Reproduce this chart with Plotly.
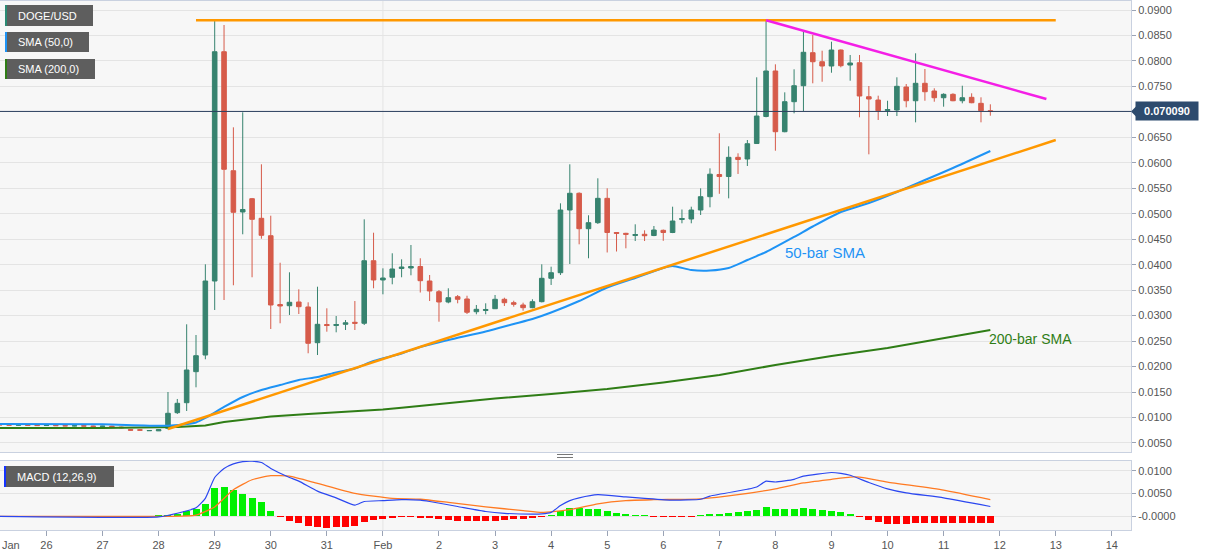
import plotly.graph_objects as go
from plotly.subplots import make_subplots
from datetime import datetime, timedelta

# ---------------- DATA ----------------
T0 = datetime(2021, 1, 29)          # bar index 0 = 29 Jan 00:00, 4-hour bars
bar_index = list(range(-23, 84))

opens = [0.00860, 0.00856, 0.00851, 0.00853, 0.00848, 0.00842, 0.00846, 0.00840, 0.00836, 0.00838,
         0.00832, 0.00826, 0.00830, 0.00812, 0.00762, 0.00758, 0.00740, 0.00738, 0.00788, 0.01095,
         0.01291, 0.01900, 0.02227, 0.03680, 0.08181, 0.05845, 0.05035, 0.05296, 0.04911, 0.04569,
         0.03219, 0.03195, 0.03268, 0.03170, 0.02469, 0.02826, 0.02806, 0.02830, 0.02869, 0.02850,
         0.04078, 0.03700, 0.03753, 0.03925, 0.03935, 0.03965, 0.03680, 0.03470, 0.03268, 0.03372,
         0.03327, 0.03077, 0.03101, 0.03136, 0.03321, 0.03254, 0.03209, 0.03156, 0.03274, 0.03733,
         0.03843, 0.05074, 0.05402, 0.04707, 0.04825, 0.05303, 0.04632, 0.04616, 0.04573, 0.04597,
         0.04573, 0.04675, 0.04632, 0.04887, 0.04897, 0.05074, 0.05335, 0.05771, 0.05731, 0.06108,
         0.06075, 0.06379, 0.06910, 0.07803, 0.06611, 0.07200, 0.07514, 0.08162, 0.07985, 0.07901,
         0.08215, 0.07920, 0.07965, 0.07298, 0.07233, 0.07027, 0.07037, 0.07488, 0.07219, 0.07561,
         0.07410, 0.07278, 0.07345, 0.07219, 0.07286, 0.07168, 0.07023]
highs = [0.00868, 0.00862, 0.00858, 0.00860, 0.00855, 0.00850, 0.00852, 0.00848, 0.00844, 0.00846,
         0.00840, 0.00836, 0.00838, 0.00820, 0.00772, 0.00766, 0.00748, 0.00768, 0.01501, 0.01364,
         0.02830, 0.02620, 0.04008, 0.08784, 0.08706, 0.06697, 0.06992, 0.05310, 0.05971, 0.04962,
         0.04039, 0.03851, 0.03517, 0.03262, 0.03568, 0.03144, 0.02993, 0.02914, 0.03287, 0.04891,
         0.04628, 0.03929, 0.04224, 0.04106, 0.04387, 0.04126, 0.03798, 0.03503, 0.03537, 0.03405,
         0.03391, 0.03209, 0.03242, 0.03405, 0.03352, 0.03293, 0.03254, 0.03321, 0.04008, 0.03961,
         0.05205, 0.05971, 0.05420, 0.04970, 0.05696, 0.05500, 0.04640, 0.04626, 0.04793, 0.04675,
         0.04760, 0.04690, 0.05139, 0.05084, 0.05139, 0.05500, 0.05892, 0.06580, 0.06324, 0.06187,
         0.06448, 0.07679, 0.08800, 0.07934, 0.07384, 0.07836, 0.08574, 0.08509, 0.08201, 0.08378,
         0.08225, 0.08117, 0.08117, 0.07508, 0.07318, 0.07219, 0.07679, 0.07547, 0.08150, 0.07842,
         0.07463, 0.07365, 0.07365, 0.07514, 0.07365, 0.07286, 0.07149]
lows = [0.00852, 0.00848, 0.00845, 0.00846, 0.00838, 0.00836, 0.00838, 0.00832, 0.00828, 0.00830,
        0.00824, 0.00820, 0.00818, 0.00790, 0.00742, 0.00746, 0.00736, 0.00735, 0.00765, 0.01069,
        0.01128, 0.01593, 0.02143, 0.03111, 0.03307, 0.03596, 0.04597, 0.03753, 0.04510, 0.02738,
        0.02850, 0.03013, 0.03032, 0.02261, 0.02227, 0.02685, 0.02673, 0.02718, 0.02718, 0.02816,
        0.03537, 0.03419, 0.03615, 0.03753, 0.03792, 0.03454, 0.03287, 0.02881, 0.03242, 0.03242,
        0.03032, 0.03026, 0.03026, 0.03130, 0.03189, 0.03176, 0.03097, 0.03145, 0.03260, 0.03602,
        0.03798, 0.04014, 0.04400, 0.04126, 0.04800, 0.04240, 0.04259, 0.04322, 0.04465, 0.04465,
        0.04560, 0.04469, 0.04620, 0.04813, 0.04813, 0.04976, 0.05127, 0.05392, 0.05303, 0.05781,
        0.05938, 0.06370, 0.06894, 0.06238, 0.06600, 0.06972, 0.07017, 0.07561, 0.07592, 0.07769,
        0.07875, 0.07612, 0.06894, 0.06167, 0.06841, 0.06919, 0.06919, 0.07090, 0.06795, 0.07219,
        0.07200, 0.07102, 0.07210, 0.07168, 0.07170, 0.06795, 0.06925]
closes = [0.00856, 0.00851, 0.00853, 0.00848, 0.00842, 0.00846, 0.00840, 0.00836, 0.00838, 0.00832,
          0.00826, 0.00830, 0.00822, 0.00800, 0.00752, 0.00752, 0.00745, 0.00762, 0.01083, 0.01279,
          0.01933, 0.02214, 0.03680, 0.08181, 0.05873, 0.05029, 0.05084, 0.04891, 0.04577, 0.03209,
          0.03189, 0.03262, 0.03176, 0.02457, 0.02830, 0.02806, 0.02826, 0.02859, 0.02850, 0.04078,
          0.03700, 0.03739, 0.03916, 0.03955, 0.03965, 0.03686, 0.03484, 0.03268, 0.03352, 0.03321,
          0.03066, 0.03124, 0.03121, 0.03321, 0.03254, 0.03223, 0.03156, 0.03274, 0.03733, 0.03843,
          0.05074, 0.05402, 0.04707, 0.04825, 0.05303, 0.04632, 0.04616, 0.04597, 0.04593, 0.04569,
          0.04681, 0.04632, 0.04858, 0.04907, 0.05074, 0.05335, 0.05777, 0.05731, 0.06108, 0.06065,
          0.06375, 0.06919, 0.07803, 0.06611, 0.07200, 0.07514, 0.08170, 0.07985, 0.07901, 0.08215,
          0.07907, 0.07960, 0.07312, 0.07253, 0.07023, 0.07047, 0.07502, 0.07219, 0.07561, 0.07396,
          0.07278, 0.07345, 0.07219, 0.07278, 0.07180, 0.07023, 0.07009]

sma50_idx = [-23, -12, -5, -2, -1, 1, 3, 5, 7, 9, 11, 13, 15, 17, 20, 22, 25, 29, 32, 34, 36, 39, 42,
             45, 48, 49, 51, 53, 55, 57, 59, 62, 64, 67, 70, 73, 76, 79, 83]
sma50_val = [0.00873, 0.00867, 0.00839, 0.00902, 0.00991, 0.01207, 0.01403, 0.01540, 0.01638, 0.01737,
             0.01795, 0.01884, 0.01962, 0.02110, 0.02257, 0.02384, 0.02522, 0.02689, 0.02836, 0.02934,
             0.03062, 0.03287, 0.03552, 0.03739, 0.03935, 0.03975, 0.03896, 0.03886, 0.03935, 0.04092,
             0.04249, 0.04544, 0.04750, 0.05035, 0.05211, 0.05427, 0.05663, 0.05898, 0.06232]

sma200_idx = [-23, -12, -4, -1, 1, 3, 6, 10, 14, 18, 20, 30, 36, 42, 48, 54, 60, 66, 72, 78, 83]
sma200_val = [0.00794, 0.00794, 0.00814, 0.00843, 0.00912, 0.00961, 0.01020, 0.01069, 0.01108, 0.01157,
              0.01190, 0.01373, 0.01462, 0.01560, 0.01688, 0.01835, 0.02031, 0.02208, 0.02365, 0.02551,
              0.02718]

macd_idx = [-23, -6, -4, -2, -1, 0, 1, 2, 3, 4, 5, 6, 8, 9, 11, 13, 15, 16, 18, 20, 22, 23, 26, 29, 31,
            34, 35, 36, 37, 38, 39, 41, 44, 46, 49, 52, 53, 57, 58, 59, 60, 62, 63, 66, 67, 68, 70, 72,
            74, 78, 83]
macd_val = [-0.0001, -0.0002, 0.0006, 0.0018, 0.0039, 0.0085, 0.0105, 0.0115, 0.0120, 0.0121, 0.0118,
            0.0105, 0.0085, 0.0077, 0.0055, 0.0040, 0.0024, 0.0032, 0.0034, 0.0036, 0.0035, 0.0032,
            0.0021, 0.0010, 0.0006, 0.0004, 0.00045, 0.0008, 0.0023, 0.0034, 0.0040, 0.0047, 0.0042,
            0.0039, 0.0035, 0.0037, 0.0044, 0.0059, 0.0064, 0.0077, 0.0075, 0.0081, 0.0088, 0.0096,
            0.0094, 0.0090, 0.0074, 0.0060, 0.0051, 0.0040, 0.0021]

signal_idx = [-23, -6, -2, 0, 2, 4, 6, 8, 11, 15, 19, 22, 25, 29, 33, 35, 38, 41, 44, 47, 52, 56, 60,
              63, 66, 68, 69, 72, 78, 83]
signal_val = [-0.0001, -0.0001, 0.0002, 0.0020, 0.0058, 0.0080, 0.0089, 0.0088, 0.0072, 0.0050, 0.0039,
              0.0037, 0.0030, 0.0020, 0.0012, 0.0008, 0.0014, 0.0027, 0.0034, 0.0036, 0.0038, 0.0047,
              0.0060, 0.0073, 0.0081, 0.0086, 0.0086, 0.0075, 0.0057, 0.0036]

hist_val = [-0.00003, -0.00003, -0.00004, -0.00003, -0.00003, -0.00004, -0.00003, -0.00003, -0.00004,
            -0.00003, -0.00003, -0.00004, -0.00003, -0.00004, -0.00005, -0.00004, -0.00003, 0.0001,
            0.0002, 0.0004, 0.0010, 0.0015, 0.0026, 0.0061, 0.0064, 0.0057, 0.0049, 0.0040, 0.0030,
            0.0012, -0.0001, -0.0010, -0.0015, -0.0023, -0.0025, -0.0026, -0.0024, -0.0024, -0.0021,
            -0.0013, -0.0009, -0.0006, -0.0004, -0.0002, -0.0001, -0.0003, -0.0005, -0.0007, -0.0009,
            -0.0010, -0.0010, -0.0011, -0.0010, -0.0010, -0.0009, -0.0007, -0.0007, -0.0005, -0.0001,
            0.0001, 0.0010, 0.0017, 0.0017, 0.0015, 0.0016, 0.0012, 0.0007, 0.0004, 0.0002, 0.00005,
            -0.0001, -0.0002, -0.0002, -0.0002, -0.0001, 0.0001, 0.0004, 0.0005, 0.0007, 0.0008,
            0.0010, 0.0014, 0.0020, 0.0015, 0.0015, 0.0015, 0.0017, 0.0016, 0.0013, 0.0012, 0.0008,
            0.0005, -0.0002, -0.0008, -0.0013, -0.0017, -0.0017, -0.0018, -0.0016, -0.0016, -0.0016,
            -0.0016, -0.0016, -0.0016, -0.0016, -0.0016, -0.0016]

resistance_idx = [-2, 90]
resistance_val = [0.0880, 0.0880]
support_idx = [-5, 90]
support_val = [0.00775, 0.06448]
falling_idx = [59, 89]
falling_val = [0.0880, 0.07253]

last_price = 0.070090

day_ticks = ["2021-01-26", "2021-01-27", "2021-01-28", "2021-01-29", "2021-01-30", "2021-01-31",
             "2021-02-01", "2021-02-02", "2021-02-03", "2021-02-04", "2021-02-05", "2021-02-06",
             "2021-02-07", "2021-02-08", "2021-02-09", "2021-02-10", "2021-02-11", "2021-02-12",
             "2021-02-13", "2021-02-14"]
day_labels = ["26", "27", "28", "29", "30", "31", "Feb", "2", "3", "4", "5", "6", "7", "8", "9", "10",
              "11", "12", "13", "14"]
price_ticks = [0.005 * i for i in range(1, 19)]
price_labels = ["%.4f" % v if abs(v - 0.07) > 1e-9 else "" for v in price_ticks]
macd_ticks = [0.0, 0.005, 0.01]
macd_labels = ["-0.0000", "0.0050", "0.0100"]


def t(k):
    return T0 + timedelta(hours=4 * k)


# ---------------- STYLE ----------------
UP, DOWN = "#37836f", "#d65b4a"
FONT = "Arial, Liberation Sans, sans-serif"
AXC = "#c9d1e0"
GRID = "#e4e4e4"
PLOT_W, TOP_PX, BOT_PX = 1131, 1, 530


def px(x):
    return x / PLOT_W


def py(y):
    return (BOT_PX - y) / (BOT_PX - TOP_PX)


fig = make_subplots(rows=2, cols=1, shared_xaxes=True, vertical_spacing=0.0)

fig.add_trace(go.Candlestick(
    x=[t(k) for k in bar_index], open=opens, high=highs, low=lows, close=closes,
    increasing=dict(line=dict(color=UP, width=1), fillcolor=UP),
    decreasing=dict(line=dict(color=DOWN, width=1), fillcolor=DOWN),
    whiskerwidth=0, showlegend=False, hoverinfo="skip"), row=1, col=1)

fig.add_trace(go.Scatter(x=[t(k) for k in sma200_idx], y=sma200_val, mode="lines",
                         line=dict(color="#2f7d16", width=2), showlegend=False, hoverinfo="skip"), row=1, col=1)
fig.add_trace(go.Scatter(x=[t(k) for k in sma50_idx], y=sma50_val, mode="lines",
                         line=dict(color="#1e93f5", width=2, shape="spline", smoothing=0.6),
                         showlegend=False, hoverinfo="skip"), row=1, col=1)
for idx, val, col in [(resistance_idx, resistance_val, "#ff9800"),
                      (support_idx, support_val, "#ff9800"),
                      (falling_idx, falling_val, "#f41fe6")]:
    fig.add_trace(go.Scatter(x=[t(k) for k in idx], y=val, mode="lines",
                             line=dict(color=col, width=2.5), showlegend=False, hoverinfo="skip"),
                  row=1, col=1)

fig.add_trace(go.Bar(x=[t(k) for k in bar_index], y=hist_val,
                     marker=dict(color=["#00f000" if v >= 0 else "#ff0000" for v in hist_val], line=dict(width=0)),
                     width=3 * 3600 * 1000, showlegend=False, hoverinfo="skip"), row=2, col=1)
fig.add_trace(go.Scatter(x=[t(k) for k in signal_idx], y=signal_val, mode="lines",
                         line=dict(color="#ff7a22", width=1.3, shape="spline", smoothing=0.5),
                         showlegend=False, hoverinfo="skip"), row=2, col=1)
fig.add_trace(go.Scatter(x=[t(k) for k in macd_idx], y=macd_val, mode="lines",
                         line=dict(color="#2b47f0", width=1.2, shape="spline", smoothing=0.5),
                         showlegend=False, hoverinfo="skip"), row=2, col=1)

x_range = [T0 + timedelta(days=-3.829), T0 + timedelta(days=16.342)]

fig.update_layout(
    width=1207, height=555,
    margin=dict(l=0, r=1207 - PLOT_W, t=TOP_PX, b=555 - BOT_PX),
    paper_bgcolor="white", plot_bgcolor="#f7f7f7",
    font=dict(family=FONT, size=11, color="#555555"),
    bargap=0, barmode="overlay",
    xaxis=dict(range=x_range, showticklabels=False, showgrid=False, showline=True, mirror=True,
               linecolor=AXC, linewidth=1, ticks="", rangeslider=dict(visible=False), zeroline=False),
    xaxis2=dict(range=x_range, tickvals=day_ticks, ticktext=day_labels, ticks="outside", ticklen=5,
                tickcolor="#9aa3b5", showgrid=False, showline=True, mirror=True, linecolor=AXC,
                linewidth=1, tickfont=dict(size=11, color="#555555"), rangeslider=dict(visible=False),
                zeroline=False),
    yaxis=dict(domain=[py(452), 1], range=[0.00323, 0.09177], side="right", tickvals=price_ticks,
               ticktext=price_labels, ticks="outside", ticklen=4, tickcolor="#9aa3b5",
               showgrid=True, gridcolor=GRID, gridwidth=1, showline=True, mirror=True, linecolor=AXC,
               zeroline=False, tickfont=dict(size=11, color="#555555")),
    yaxis2=dict(domain=[0, py(461)], range=[-0.00309, 0.01214], side="right", tickvals=macd_ticks,
                ticktext=macd_labels, ticks="outside", ticklen=4, tickcolor="#9aa3b5",
                showgrid=True, gridcolor=GRID, gridwidth=1, showline=True, mirror=True, linecolor=AXC,
                zeroline=False, tickfont=dict(size=11, color="#555555")),
)

shapes = []
# month separator gridline (1 Feb)
for yr in ["y domain", "y2 domain"]:
    shapes.append(dict(type="line", xref="x", yref=yr, x0="2021-02-01", x1="2021-02-01", y0=0, y1=1,
                       line=dict(color=GRID, width=1), layer="below"))
# current price line
shapes.append(dict(type="line", xref="paper", yref="y", x0=0, x1=1, y0=last_price, y1=last_price,
                   line=dict(color="#2b3f5e", width=1)))
# price label arrow
shapes.append(dict(type="path", xref="paper", yref="y", xsizemode="pixel", ysizemode="pixel",
                   xanchor=1, yanchor=last_price, path="M 0 0 L 5 5 L 5 -5 Z",
                   fillcolor="#2d4b6e", line=dict(width=0)))
# legend boxes
boxes = [("DOGE/USD", 5, 93, 5, 26, "#2a8a73"),
         ("SMA (50,0)", 5, 89, 32, 52, "#1e93f5"),
         ("SMA (200,0)", 5, 95, 59, 79, "#2f7d16"),
         ("MACD (12,26,9)", 4, 114, 466, 487, "#1533ff")]
annotations = []
for text, bx0, bx1, by0, by1, stripe in boxes:
    shapes.append(dict(type="rect", xref="paper", yref="paper", x0=px(bx0), x1=px(bx1), y0=py(by1),
                       y1=py(by0), fillcolor="#5e5e5e", line=dict(width=0)))
    shapes.append(dict(type="rect", xref="paper", yref="paper", x0=px(bx0), x1=px(bx0 + 2), y0=py(by1),
                       y1=py(by0), fillcolor=stripe, line=dict(width=0)))
    annotations.append(dict(text=text, xref="paper", yref="paper", x=px(bx0 + 11), y=py((by0 + by1) / 2),
                            xanchor="left", yanchor="middle", showarrow=False,
                            font=dict(family=FONT, size=11, color="white")))
# panel grip
for gy in [454.5, 457.5]:
    shapes.append(dict(type="line", xref="paper", yref="paper", x0=px(557), x1=px(573), y0=py(gy),
                       y1=py(gy), line=dict(color="#777777", width=1)))

annotations += [
    dict(text="<b>0.070090</b>", xref="paper", yref="y", x=1, y=last_price, xanchor="left",
         yanchor="middle", xshift=4, showarrow=False, bgcolor="#2d4b6e", width=58, height=14,
         borderpad=2, font=dict(family=FONT, size=11, color="white")),
    dict(text="50-bar SMA", xref="x", yref="y", x=T0 + timedelta(days=10.885), y=0.04230,
         showarrow=False, font=dict(family=FONT, size=15, color="#1e93f5")),
    dict(text="200-bar SMA", xref="x", yref="y", x=T0 + timedelta(days=14.558), y=0.02541,
         showarrow=False, font=dict(family=FONT, size=14, color="#2f7d16")),
    dict(text="Jan", xref="paper", yref="paper", x=0, y=py(545), xanchor="left", yanchor="middle",
         showarrow=False, font=dict(family=FONT, size=11, color="#555555")),
]

fig.update_layout(shapes=shapes, annotations=annotations)
fig.write_html("out.html")
